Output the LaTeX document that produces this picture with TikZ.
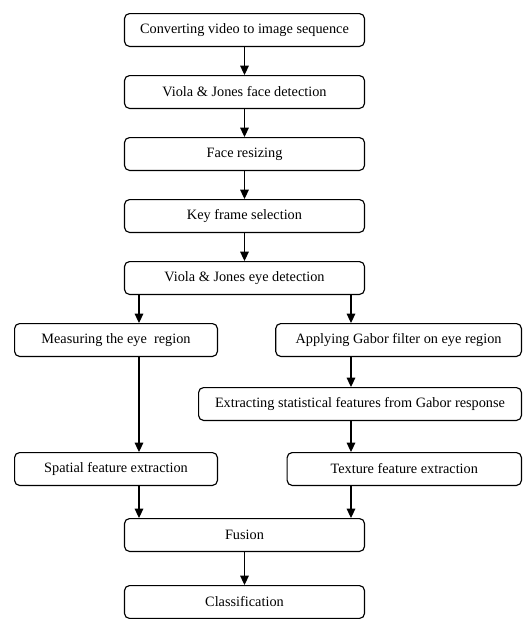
\documentclass[tikz,border=0pt]{standalone}
\usepackage{fontspec}
\setmainfont{Liberation Serif}
\usepackage{tikz}
\usetikzlibrary{positioning, arrows.meta}

\begin{document}
\begin{tikzpicture}[
    x=0.7pt, y=-0.7pt,
    node distance = 19.6pt and 12mm,% gap between stacked steps
       box/.style = {draw, rounded corners=3.5pt, line width=0.8pt,
                     minimum height=23pt, inner sep=2pt},% nodes style
      wide/.style = {box, minimum width=168pt},% centre column
    >={Triangle[length=6.5pt,width=6pt]}
    ]
    \useasboundingbox (0,0) rectangle (523,619);
    % centre column
    \node (conv) [wide, anchor=north] at (244.5,13) {Converting video to image sequence};
    \node (face) [wide, below=of conv] {Viola \& Jones face detection};
    \node (resize) [wide, below=of face] {Face resizing};
    \node (key) [wide, below=of resize] {Key frame selection};
    \node (eye) [wide, below=of key] {Viola \& Jones eye detection};
    % left branch
    \node (meas) [box, minimum width=142pt, anchor=north west] at (14,323) {Measuring the eye~ region};
    \node (spatial) [box, minimum width=142pt, anchor=north west] at (14,452) {Spatial feature extraction};
    % right branch
    \node (gabor) [box, minimum width=172pt, anchor=north east] at (522,323) {Applying Gabor filter on eye region};
    \node (stats) [box, minimum width=226pt, anchor=north east] at (522,387) {Extracting statistical features from Gabor response};
    \node (texture) [box, minimum width=164pt, anchor=north east] at (522,452) {Texture feature extraction};
    % bottom
    \node (fusion) [wide, anchor=north] at (244.5,518) {Fusion};
    \node (class) [wide, anchor=north] at (244.5,585) {Classification};
    \coordinate (lx) at (139,0);
    \coordinate (rx) at (351,0);
    \begin{scope}[line width=0.8pt]
    \draw[->] (conv) -- (face);
    \draw[->] (face) -- (resize);
    \draw[->] (resize) -- (key);
    \draw[->] (key) -- (eye);
    \draw[->] (eye.south -| lx) -- (meas.north -| lx);
    \draw[->] (eye.south -| rx) -- (gabor.north -| rx);
    \draw[->] (meas.south -| lx) -- (spatial.north -| lx);
    \draw[->] (gabor.south -| rx) -- (stats.north -| rx);
    \draw[->] (stats.south -| rx) -- (texture.north -| rx);
    \draw[->] (spatial.south -| lx) -- (fusion.north -| lx);
    \draw[->] (texture.south -| rx) -- (fusion.north -| rx);
    \draw[->] (fusion) -- (class);
    \end{scope}
\end{tikzpicture}
\end{document}
